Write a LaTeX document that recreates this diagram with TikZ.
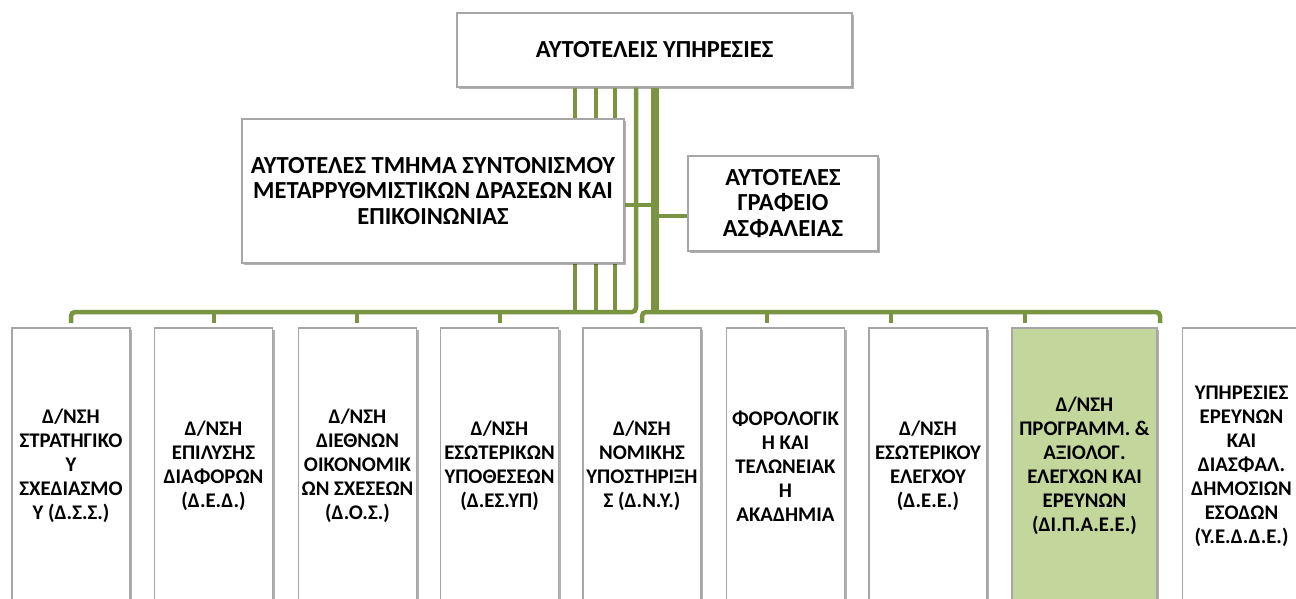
\documentclass[tikz,border=0pt]{standalone}
\usepackage{fontspec}
\setmainfont{Carlito}
\usetikzlibrary{shadows}
\definecolor{linegreen}{HTML}{7A9442}
\definecolor{boxgreen}{HTML}{C3D69B}
\definecolor{boxedge}{HTML}{A6A6A6}
\tikzset{
  orgbox/.style={draw=boxedge, line width=1.3pt, fill=white, align=center,
    inner sep=1pt, font=\bfseries\fontsize{24.5}{25.5}\selectfont,
    drop shadow={shadow xshift=2pt, shadow yshift=-2pt, opacity=0.3, fill=black}},
  unitbox/.style={orgbox, minimum width=118pt, minimum height=276pt,
    font=\bfseries\fontsize{20.8}{24}\selectfont},
  conn/.style={draw=linegreen, line width=4.5pt, rounded corners=4pt},
  spine/.style={draw=linegreen, line width=8pt},
}
\begin{document}
\begin{tikzpicture}[x=1pt, y=-1pt]
\useasboundingbox (0,0) rectangle (1296,599);
\clip (0,0) rectangle (1296,599);
\fill[white] (0,0) rectangle (1296,599);

% junction points on the two horizontal bars
\coordinate (sp) at (655,312);
\coordinate (v1) at (575,312);
\coordinate (v2) at (596,312);
\coordinate (v3) at (615,312);
\coordinate (v4) at (636,312);
% tick ends above the unit boxes
\coordinate (k1) at (71,323);
\coordinate (k2) at (214,323);
\coordinate (k3) at (357,323);
\coordinate (k4) at (500,323);
\coordinate (k5) at (642,323);
\coordinate (k6) at (767,323);
\coordinate (k7) at (891,323);
\coordinate (k8) at (1025,323);
\coordinate (k9) at (1160,323);

\path (654.5,50) node[orgbox, minimum width=395pt, minimum height=74pt] (top) {ΑΥΤΟΤΕΛΕΙΣ ΥΠΗΡΕΣΙΕΣ};

% connectors from the top box
\draw[conn] (top.south -| v1) -- (v1);
\draw[conn] (top.south -| v2) -- (v2);
\draw[conn] (top.south -| v3) -- (v3);
\draw[conn] (top.south -| v4) -- (v4) -- (k1 |- v4) -- (k1);
\draw[conn] (k2 |- v4) -- (k2);
\draw[conn] (k3 |- v4) -- (k3);
\draw[conn] (k4 |- v4) -- (k4);
\draw[spine] (top.south -| sp) -- (sp);
\draw[conn] (k5) -- (k5 |- sp) -- (k9 |- sp) -- (k9);
\draw[conn] (k6 |- sp) -- (k6);
\draw[conn] (k7 |- sp) -- (k7);
\draw[conn] (k8 |- sp) -- (k8);

\node[orgbox, minimum width=382pt, minimum height=144pt] (mid) at (433,191)
  {ΑΥΤΟΤΕΛΕΣ ΤΜΗΜΑ ΣΥΝΤΟΝΙΣΜΟΥ\\ΜΕΤΑΡΡΥΘΜΙΣΤΙΚΩΝ ΔΡΑΣΕΩΝ ΚΑΙ\\ΕΠΙΚΟΙΝΩΝΙΑΣ};
\node[orgbox, minimum width=190pt, minimum height=95pt] (sec) at (783,203.5)
  {ΑΥΤΟΤΕΛΕΣ\\ΓΡΑΦΕΙΟ\\ΑΣΦΑΛΕΙΑΣ};
\draw[conn] ([yshift=-14pt]mid.east) -- ([yshift=-14pt]mid.east -| sp);
\draw[conn] ([yshift=-12.5pt]sec.west) -- ([yshift=-12.5pt]sec.west -| sp);

% unit boxes
\node[unitbox] (b1) at (71,466) {Δ/ΝΣΗ\\ΣΤΡΑΤΗΓΙΚΟ\\Υ\\ΣΧΕΔΙΑΣΜΟ\\Υ (Δ.Σ.Σ.)};
\node[unitbox] (b2) at (213.5,466) {Δ/ΝΣΗ\\ΕΠΙΛΥΣΗΣ\\ΔΙΑΦΟΡΩΝ\\(Δ.Ε.Δ.)};
\node[unitbox] (b3) at (357.5,466) {Δ/ΝΣΗ\\ΔΙΕΘΝΩΝ\\ΟΙΚΟΝΟΜΙΚ\\ΩΝ ΣΧΕΣΕΩΝ\\(Δ.Ο.Σ.)};
\node[unitbox] (b4) at (499.5,466) {Δ/ΝΣΗ\\ΕΣΩΤΕΡΙΚΩΝ\\ΥΠΟΘΕΣΕΩΝ\\(Δ.ΕΣ.ΥΠ)};
\node[unitbox] (b5) at (642,466) {Δ/ΝΣΗ\\ΝΟΜΙΚΗΣ\\ΥΠΟΣΤΗΡΙΞΗ\\Σ (Δ.Ν.Υ.)};
\node[unitbox] (b6) at (785.5,466) {ΦΟΡΟΛΟΓΙΚ\\Η ΚΑΙ\\ΤΕΛΩΝΕΙΑΚ\\Η\\ΑΚΑΔΗΜΙΑ};
\node[unitbox] (b7) at (928,466) {Δ/ΝΣΗ\\ΕΣΩΤΕΡΙΚΟΥ\\ΕΛΕΓΧΟΥ\\(Δ.Ε.Ε.)};
\node[unitbox, fill=boxgreen, minimum width=145pt] (b8) at (1084.5,466)
  {Δ/ΝΣΗ\\ΠΡΟΓΡΑΜΜ. \&\\ΑΞΙΟΛΟΓ.\\ΕΛΕΓΧΩΝ ΚΑΙ\\ΕΡΕΥΝΩΝ\\(ΔΙ.Π.Α.Ε.Ε.)};
\node[unitbox] (b9) at (1241.5,466) {ΥΠΗΡΕΣΙΕΣ\\ΕΡΕΥΝΩΝ\\ΚΑΙ\\ΔΙΑΣΦΑΛ.\\ΔΗΜΟΣΙΩΝ\\ΕΣΟΔΩΝ\\(Υ.Ε.Δ.Δ.Ε.)};
\end{tikzpicture}
\end{document}
